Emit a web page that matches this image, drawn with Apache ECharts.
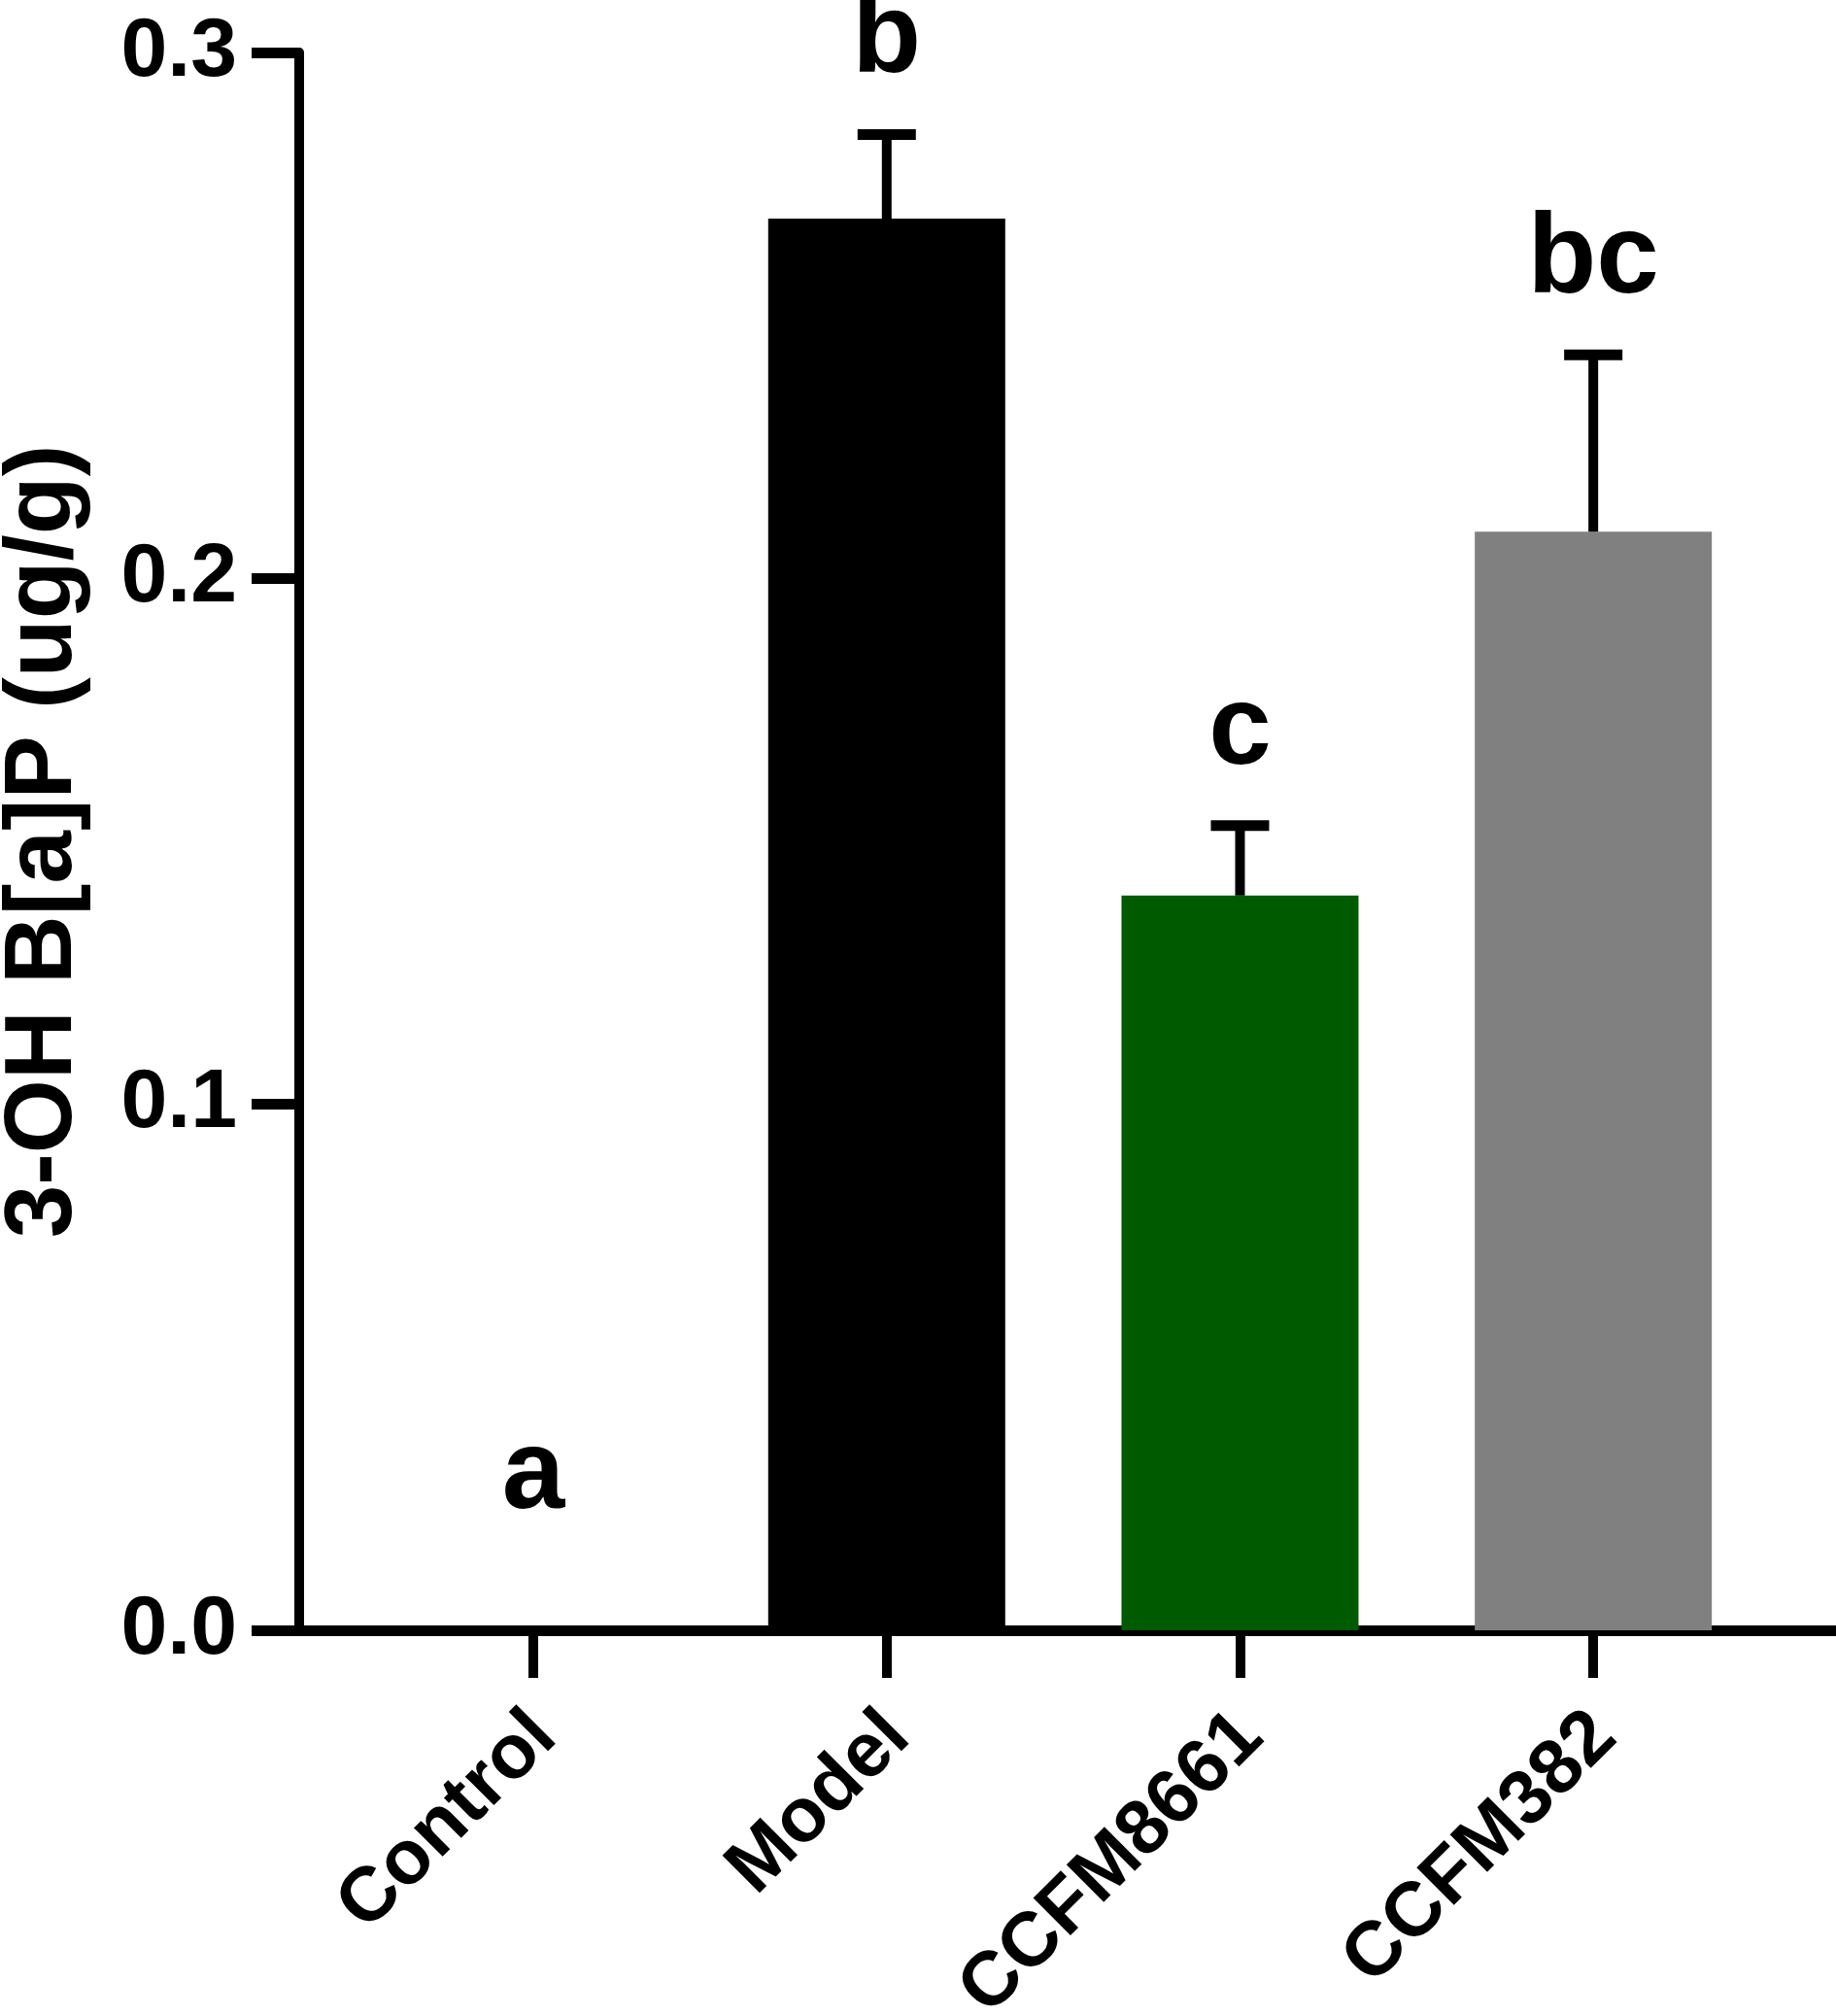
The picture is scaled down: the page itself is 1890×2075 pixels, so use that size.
<!DOCTYPE html>
<html>
<head>
<meta charset="utf-8">
<title>3-OH B[a]P</title>
<script src="https://cdn.jsdelivr.net/npm/echarts@6/dist/echarts.min.js"></script>
<style>
  html, body { margin: 0; padding: 0; background: #fff; }
  #main { width: 1890px; height: 2075px; }
</style>
</head>
<body>
<div id="main"></div>
<script>
// groups and values
var groups = ['Control', 'Model', 'CCFM8661', 'CCFM382'];
var positions = [1, 2, 3, 4];
var means = [0, 0.2684, 0.1397, 0.2089];
var errors = [0, 0.0160, 0.0133, 0.0336];
var letters = ['a', 'b', 'c', 'bc'];
var barColors = ['#ffffff', '#000000', '#005a00', '#808080'];

var FONT = '"Liberation Sans", Arial, Helvetica, sans-serif';

var barData = positions.map(function (p, i) {
    return { value: [p, means[i]], itemStyle: { color: barColors[i] } };
});
var errData = positions.map(function (p, i) {
    return [p, means[i], errors[i], i];
});

function renderErr(params, api) {
    var x = api.value(0), m = api.value(1), e = api.value(2), idx = api.value(3);
    var base = api.coord([x, m]);
    var top = api.coord([x, m + e]);
    var children = [];
    if (e > 0) {
        children.push({
            type: 'line',
            shape: { x1: base[0], y1: base[1], x2: top[0], y2: top[1] },
            style: { stroke: '#000', lineWidth: 10 }
        });
        children.push({
            type: 'line',
            shape: { x1: top[0] - 30, y1: top[1], x2: top[0] + 30, y2: top[1] },
            style: { stroke: '#000', lineWidth: 11 }
        });
    }
    // significance letter above the cap
    var gap = (m + e) > 0 ? 56 : 118;
    children.push({
        type: 'text',
        style: {
            text: letters[idx],
            x: top[0],
            y: top[1] - gap - 40,
            fill: '#000',
            font: 'bold 116px ' + FONT,
            align: 'center',
            verticalAlign: 'middle'
        }
    });
    return { type: 'group', children: children };
}

var option = {
    animation: false,
    backgroundColor: '#fff',
    grid: { left: 308, right: 0, top: 54, bottom: 397, outerBoundsMode: 'none', containLabel: false },
    xAxis: {
        type: 'value',
        min: 0.337,
        max: 4.687,
        splitLine: { show: false },
        axisLine: { show: true, onZero: false, lineStyle: { color: '#000', width: 11 } },
        axisTick: { show: true, customValues: positions, length: 49, lineStyle: { color: '#000', width: 10 } },
        axisLabel: {
            customValues: positions,
            formatter: function (v) { return groups[Math.round(v) - 1]; },
            rotate: 45,
            margin: 86,
            align: 'right',
            verticalAlign: 'top',
            lineHeight: 32,
            color: '#000',
            fontSize: 79,
            fontWeight: 'bold',
            fontFamily: FONT
        }
    },
    yAxis: {
        type: 'value',
        min: 0,
        max: 0.3,
        interval: 0.1,
        name: '3-OH B[a]P (ug/g)',
        nameLocation: 'middle',
        nameGap: 213,
        nameTextStyle: { color: '#000', fontSize: 98, fontWeight: 'bold', fontFamily: FONT },
        splitLine: { show: false },
        axisLine: { show: true, lineStyle: { color: '#000', width: 10 } },
        axisTick: { show: true, length: 49, lineStyle: { color: '#000', width: 11 } },
        axisLabel: {
            margin: 64,
            color: '#000',
            fontSize: 86,
            fontWeight: 'bold',
            fontFamily: FONT,
            formatter: function (v) { return v.toFixed(1); }
        }
    },
    series: [
        {
            name: 'mean',
            type: 'bar',
            barWidth: 244,
            data: barData
        },
        {
            name: 'sem',
            type: 'custom',
            renderItem: renderErr,
            data: errData,
            z: 5
        }
    ]
};

var myChart = echarts.init(document.getElementById('main'), null, { width: 1890, height: 2075 });
myChart.setOption(option);
</script>
</body>
</html>
